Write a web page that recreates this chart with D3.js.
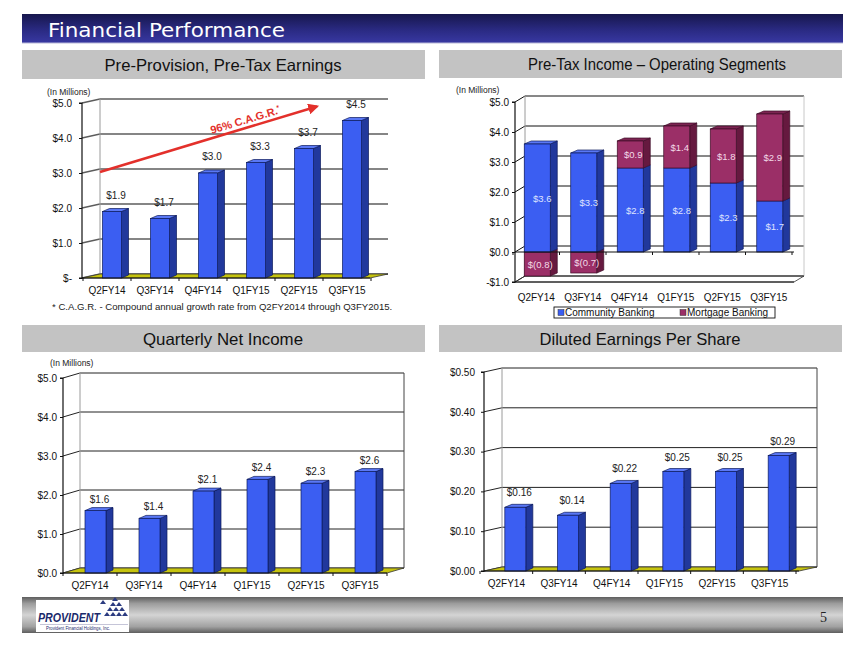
<!DOCTYPE html>
<html><head><meta charset="utf-8">
<script src="https://cdn.jsdelivr.net/npm/d3@7/dist/d3.min.js"></script>
<style>
body{margin:0;background:#fff}
svg{display:block}
text{font-family:"Liberation Sans",Arial,sans-serif}
</style>
</head><body>
<svg id="s" width="864" height="648"></svg>
<script>
// ---------- DATA ----------
const categories = ["Q2FY14","Q3FY14","Q4FY14","Q1FY15","Q2FY15","Q3FY15"];
const preProvisionEarnings = [1.9, 1.7, 3.0, 3.3, 3.7, 4.5];
const communityBanking = [3.6, 3.3, 2.8, 2.8, 2.3, 1.7];
const mortgageBanking = [-0.8, -0.7, 0.9, 1.4, 1.8, 2.9];
const netIncome = [1.6, 1.4, 2.1, 2.4, 2.3, 2.6];
const dilutedEPS = [0.16, 0.14, 0.22, 0.25, 0.25, 0.29];
const ticksEarnings = [0, 1, 2, 3, 4, 5];
const ticksSegments = [-1, 0, 1, 2, 3, 4, 5];
const ticksNetIncome = [0, 1, 2, 3, 4, 5];
const ticksEPS = [0, 0.1, 0.2, 0.3, 0.4, 0.5];
const legendLabels = ["Community Banking", "Mortgage Banking"];
const cagrStart = 3.0, cagrEnd = 4.9;

// ---------- STYLE ----------
const BLUE = {front:"#3b5ef2", side:"#21389c", top:"#5a78f5", edge:"#0c1a5c"};
const MAROON = {front:"#9b2f67", side:"#66193f", top:"#7c2452", edge:"#3d0c26"};
const FLOOR = "#c6c40e";

const svg = d3.select("#s");
const defs = svg.append("defs");

const tg = defs.append("linearGradient").attr("id","titleGrad").attr("x1",0).attr("y1",0).attr("x2",0).attr("y2",1);
tg.append("stop").attr("offset","0%").attr("stop-color","#17174d");
tg.append("stop").attr("offset","55%").attr("stop-color","#2a2a82");
tg.append("stop").attr("offset","100%").attr("stop-color","#3838a2");

const fg = defs.append("linearGradient").attr("id","footGrad").attr("x1",0).attr("y1",0).attr("x2",0).attr("y2",1);
[["0%","#5e5e5e"],["18%","#9c9c9c"],["50%","#d4d4d4"],["82%","#a2a2a2"],["100%","#5e5e5e"]]
  .forEach(([o,c])=>fg.append("stop").attr("offset",o).attr("stop-color",c));

const mk = defs.append("marker").attr("id","arrow").attr("viewBox","0 0 10 10")
  .attr("refX",8).attr("refY",5).attr("markerWidth",4.2).attr("markerHeight",4.2).attr("orient","auto");
mk.append("path").attr("d","M0,0L10,5L0,10Z").attr("fill","#e3302b");

// ---------- TITLE ----------
svg.append("rect").attr("x",22).attr("y",14).attr("width",821).attr("height",29).attr("fill","url(#titleGrad)");
svg.append("line").attr("x1",22).attr("x2",843).attr("y1",43).attr("y2",43).attr("stroke","#b8b8d8").attr("stroke-width",1);
svg.append("text").attr("x",48).attr("y",37).attr("fill","#fff")
  .style("font-family","'DejaVu Sans',Verdana,sans-serif").style("font-size","19px")
  .attr("textLength",237).attr("lengthAdjust","spacingAndGlyphs")
  .text("Financial Performance");

// ---------- SECTION HEADERS ----------
function header(x,y,w,h,tx,label,len){
  svg.append("rect").attr("x",x).attr("y",y).attr("width",w).attr("height",h).attr("fill","#c3c3c3");
  svg.append("text").attr("x",tx).attr("y",y+h/2+6).attr("text-anchor","middle")
    .style("font-size","16.5px").attr("fill","#111")
    .attr("textLength",len).attr("lengthAdjust","spacingAndGlyphs").text(label);
}
header(22,50,403,29,223,"Pre-Provision, Pre-Tax Earnings",237);
header(439,50,403,28,657,"Pre-Tax Income \u2013 Operating Segments",258);
header(22,325,403,27,223,"Quarterly Net Income",160);
header(439,325,403,27,640,"Diluted Earnings Per Share",201);

// ---------- 3D helpers ----------
function bar3d(g, xl, w, yt, yb, d, dd, col, withTop){
  g.append("path").attr("d",`M${xl+w},${yt}L${xl+w+d},${yt-dd}L${xl+w+d},${yb-dd}L${xl+w},${yb}Z`)
    .attr("fill",col.side).attr("stroke",col.edge).attr("stroke-width",0.7);
  if(withTop){
    g.append("path").attr("d",`M${xl},${yt}L${xl+d},${yt-dd}L${xl+w+d},${yt-dd}L${xl+w},${yt}Z`)
      .attr("fill",col.top).attr("stroke",col.edge).attr("stroke-width",0.7);
  }
  g.append("rect").attr("x",xl).attr("y",Math.min(yt,yb)).attr("width",w).attr("height",Math.abs(yb-yt))
    .attr("fill",col.front).attr("stroke",col.edge).attr("stroke-width",0.7);
}

function frame(c){
  const g = svg.append("g");
  const y = d3.scaleLinear().domain(c.domain).range(c.range);
  const x = d3.scaleBand().domain(categories).range(c.band);
  const lo = c.domain[0], hi = c.domain[1];
  c.ticks.forEach(t=>{
    g.append("line").attr("x1",c.x0+c.dx).attr("x2",c.x1+c.dx).attr("y1",y(t)+c.dy).attr("y2",y(t)+c.dy)
      .attr("stroke",c.grid).attr("stroke-width",c.gw);
    g.append("line").attr("x1",c.x0).attr("x2",c.x0+c.dx).attr("y1",y(t)).attr("y2",y(t)+c.dy)
      .attr("stroke",c.grid).attr("stroke-width",c.gw);
  });
  g.append("line").attr("x1",c.x0+c.dx).attr("x2",c.x0+c.dx).attr("y1",y(hi)+c.dy).attr("y2",y(lo)+c.dy)
    .attr("stroke","#9a9a9a").attr("stroke-width",1);
  if(c.right){
    g.append("line").attr("x1",c.x1+c.dx).attr("x2",c.x1+c.dx).attr("y1",y(hi)+c.dy).attr("y2",y(lo)+c.dy)
      .attr("stroke",c.right).attr("stroke-width",1);
  }
  const yf = y(lo);
  g.append("path").attr("d",`M${c.x0},${yf}L${c.x1},${yf}L${c.x1+c.dx},${yf+c.dy}L${c.x0+c.dx},${yf+c.dy}Z`)
    .attr("fill",c.floor||"none").attr("stroke","#333").attr("stroke-width",0.8);
  return {g,x,y};
}

function axes(c, f){
  const {g,x,y} = f;
  const ya = d3.axisLeft(y).tickValues(c.ticks).tickFormat(c.fmt).tickSize(3).tickPadding(c.tpad);
  const yg = g.append("g").attr("transform",`translate(${c.x0},0)`).call(ya);
  yg.select(".domain").attr("stroke","#111").attr("stroke-width",1.2).attr("d",`M-3,${y(c.domain[1])}H0V${y(c.domain[0])}H-3`);
  yg.selectAll(".tick line").attr("stroke","#111");
  yg.selectAll("text").style("font-size","10px").attr("fill","#111").style("font-family","'Liberation Sans',Arial,sans-serif");
  const ybase = y(c.catAt);
  const xa = d3.axisBottom(x).tickSize(0).tickPadding(c.xpad);
  const xg = g.append("g").attr("transform",`translate(0,${y(c.domain[0])})`).call(xa);
  xg.select(".domain").remove();
  xg.selectAll("text").style("font-size","10px").attr("fill","#111").style("font-family","'Liberation Sans',Arial,sans-serif");
  g.append("line").attr("x1",c.x0).attr("x2",c.x1).attr("y1",ybase).attr("y2",ybase).attr("stroke","#111").attr("stroke-width",1.2);
  d3.range(categories.length+1).forEach(i=>{
    const bx = x.range()[0] + i*x.step();
    g.append("line").attr("x1",bx).attr("x2",bx).attr("y1",ybase).attr("y2",ybase+3).attr("stroke","#111").attr("stroke-width",1);
  });
}

function simpleBars(c, values, labelFmt){
  const f = frame(c);
  const {g,x,y} = f;
  values.forEach((v,i)=>{
    const xl = x(categories[i]) + x.bandwidth()/2 + c.boff - c.bw/2;
    bar3d(g, xl, c.bw, y(v), y(c.domain[0]), 7, 3, BLUE, true);
    g.append("text").attr("x", xl + c.bw/2 + 4).attr("y", y(v) - c.lab).attr("text-anchor","middle")
      .style("font-size","10px").attr("fill","#222").text(labelFmt(v));
  });
  axes(c, f);
  return f;
}

// ---------- CHART 1 ----------
const c1 = {x0:82,x1:370,band:[83,371],domain:[0,5],range:[278,103],dx:18,dy:-4,ticks:ticksEarnings,
  fmt:v=>v===0?"$-":"$"+v.toFixed(1),tpad:7,bw:19,boff:5,lab:13,xpad:9,floor:FLOOR,grid:"#5c5c5c",gw:1.3,catAt:0,right:null};
const f1 = simpleBars(c1, preProvisionEarnings, v=>"$"+v.toFixed(1));
{
  const {g,x,y} = f1;
  const sx = c1.x0 + c1.dx, sy = y(cagrStart) + c1.dy + 3;
  const ex = x("Q2FY15") + x.bandwidth()/2 + 18, ey = y(cagrEnd);
  g.append("line").attr("x1",sx).attr("y1",sy).attr("x2",ex).attr("y2",ey)
    .attr("stroke","#e3302b").attr("stroke-width",2.6).attr("marker-end","url(#arrow)");
  const ang = Math.atan2(ey-sy, ex-sx)*180/Math.PI;
  const t = 0.68, tx = sx+(ex-sx)*t, ty = sy+(ey-sy)*t;
  const tt = g.append("text").attr("transform",`translate(${tx},${ty}) rotate(${ang}) translate(0,-4)`)
    .attr("text-anchor","middle").attr("fill","#e3302b").style("font-size","11px").style("font-weight","bold");
  tt.append("tspan").text("96% C.A.G.R.");
  tt.append("tspan").attr("dy",-4).style("font-size","7px").text("*");
}
svg.append("text").attr("x",47).attr("y",95).style("font-size","8.5px").attr("fill","#222").text("(In Millions)");
svg.append("text").attr("x",52).attr("y",310).style("font-size","9.6px").attr("fill","#222")
  .text("* C.A.G.R.  - Compound  annual growth rate from Q2FY2014 through Q3FY2015.");

// ---------- CHART 2 ----------
{
  const c2 = {x0:515,x1:794,band:[513,792],domain:[-1,5],range:[282,102],dx:10,dy:-6,ticks:ticksSegments,
    fmt:v=>v<0?"-$"+Math.abs(v).toFixed(1):"$"+v.toFixed(1),tpad:3,bw:26,boff:1,xpad:12,floor:null,grid:"#111",gw:1,catAt:0,right:"#c8c8c8"};
  const f = frame(c2);
  const {g,x,y} = f;
  const neg = v=>"$("+Math.abs(v).toFixed(1)+")";
  categories.forEach((cat,i)=>{
    const cb = communityBanking[i], mb = mortgageBanking[i];
    const xl = x(cat) + x.bandwidth()/2 + c2.boff - c2.bw/2;
    if(mb<0){
      bar3d(g, xl, c2.bw, y(0), y(mb), 7, 3, MAROON, false);
      bar3d(g, xl, c2.bw, y(cb), y(0), 7, 3, BLUE, true);
    } else {
      bar3d(g, xl, c2.bw, y(cb), y(0), 7, 3, BLUE, false);
      bar3d(g, xl, c2.bw, y(cb+mb), y(cb), 7, 3, MAROON, true);
    }
    const lx = xl + c2.bw/2 + 5;
    g.append("text").attr("x",lx).attr("y",y(cb/2)+3.5).attr("text-anchor","middle")
      .style("font-size","9.5px").attr("fill","#dfe4ff").text("$"+cb.toFixed(1));
    const mm = mb<0 ? mb/2 : cb+mb/2;
    g.append("text").attr("x",lx-2).attr("y",y(mm)+3.5).attr("text-anchor","middle")
      .style("font-size","9.5px").attr("fill","#f3dbe8").text(mb<0?neg(mb):"$"+mb.toFixed(1));
  });
  axes(c2, f);
  g.append("line").attr("x1",c2.x0).attr("x2",c2.x1).attr("y1",y(-1)).attr("y2",y(-1)).attr("stroke","#111").attr("stroke-width",1);
  const lg = svg.append("g");
  lg.append("rect").attr("x",554).attr("y",307).attr("width",221).attr("height",11).attr("fill","#fff").attr("stroke","#111").attr("stroke-width",0.9);
  const lx = [558, 680];
  [BLUE, MAROON].forEach((col,i)=>{
    lg.append("rect").attr("x",lx[i]).attr("y",309.5).attr("width",6).attr("height",6).attr("fill",col.front).attr("stroke","#333").attr("stroke-width",0.5);
    lg.append("text").attr("x",lx[i]+7).attr("y",316).style("font-size","10px").attr("fill","#111").text(legendLabels[i]);
  });
  svg.append("text").attr("x",456).attr("y",93).style("font-size","8.5px").attr("fill","#222").text("(In Millions)");
}

// ---------- CHART 3 ----------
const c3 = {x0:63,x1:387,band:[63,387],domain:[0,5],range:[573,378],dx:17,dy:-5,ticks:ticksNetIncome,
  fmt:v=>"$"+v.toFixed(1),tpad:3,bw:21,boff:5.5,lab:8,xpad:9,floor:FLOOR,grid:"#222",gw:1,catAt:0,right:"#444"};
simpleBars(c3, netIncome, v=>"$"+v.toFixed(1));
svg.append("text").attr("x",50).attr("y",366).style("font-size","8.5px").attr("fill","#222").text("(In Millions)");

// ---------- CHART 4 ----------
const c4 = {x0:484,x1:799,band:[480,796],domain:[0,0.5],range:[571,372],dx:18,dy:-4,ticks:ticksEPS,
  fmt:v=>"$"+v.toFixed(2),tpad:6,bw:21,boff:9,lab:11,xpad:9,floor:FLOOR,grid:"#222",gw:1,catAt:0,right:"#444"};
simpleBars(c4, dilutedEPS, v=>"$"+v.toFixed(2));

// ---------- FOOTER ----------
svg.append("rect").attr("x",22).attr("y",597).attr("width",821).attr("height",36).attr("fill","url(#footGrad)");
svg.append("rect").attr("x",36).attr("y",600).attr("width",93).attr("height",32).attr("fill","#fff");
svg.append("text").attr("x",38).attr("y",622).attr("fill","#1b2a6b")
  .style("font-size","13px").style("font-weight","bold").style("font-style","italic")
  .attr("textLength",62).attr("lengthAdjust","spacingAndGlyphs").text("PROVIDENT");
{
  const tri = [[104,616],[110,616],[116,616],[122,616],[107,611],[113,611],[119,611],[110,606],[116,606],[100,604],[112,601]];
  tri.forEach(([tx,ty])=>svg.append("path").attr("d",`M${tx},${ty}l3,-4l3,4Z`).attr("fill","#2b3b80"));
}
svg.append("line").attr("x1",40).attr("x2",128).attr("y1",624.5).attr("y2",624.5).attr("stroke","#8a8ab0").attr("stroke-width",0.5);
svg.append("text").attr("x",46).attr("y",630).attr("fill","#1b2a6b").style("font-size","4.5px")
  .attr("textLength",64).attr("lengthAdjust","spacingAndGlyphs").text("Provident Financial Holdings, Inc.");
svg.append("text").attr("x",820).attr("y",622).attr("fill","#222")
  .style("font-family","'Liberation Serif','DejaVu Serif',serif").style("font-size","14px").text("5");
</script>
</body></html>
